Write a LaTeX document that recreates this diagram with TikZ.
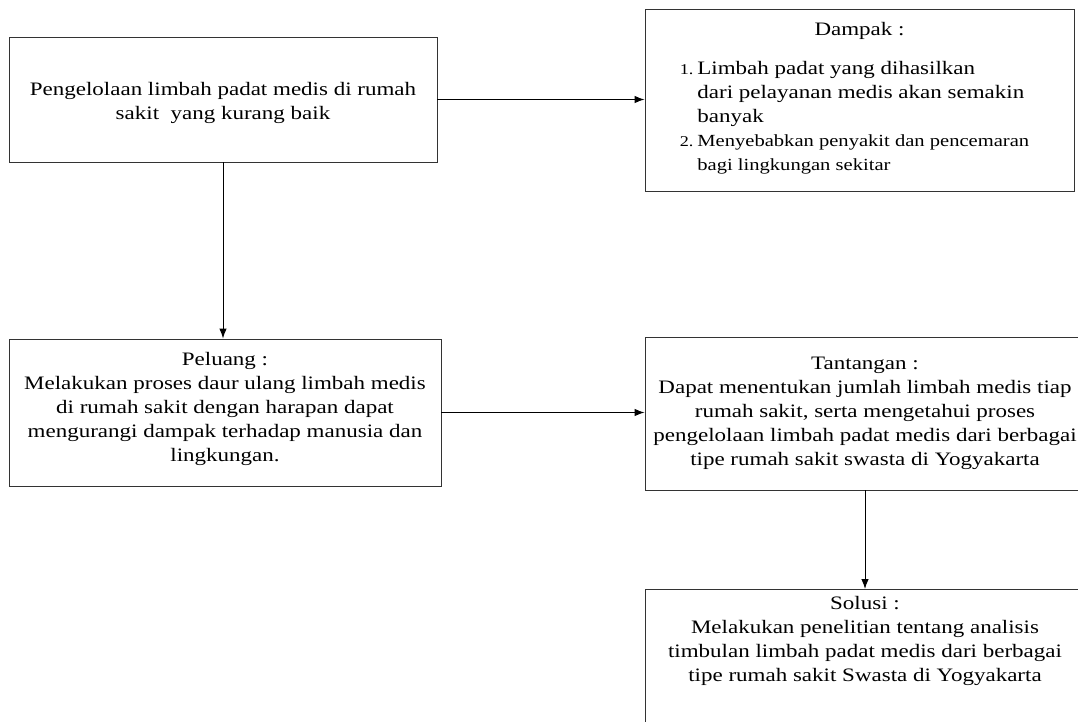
\documentclass[tikz,border=0pt]{standalone}
\usepackage{fontspec}
\setmainfont{Liberation Serif}[FakeStretch=1.21]
\usetikzlibrary{arrows.meta}
\begin{document}
\begin{tikzpicture}[x=1pt,y=-1pt,
  box/.style={draw=black!80,line width=0.9pt,align=center,inner sep=0pt,
    font=\fontsize{19}{24}\selectfont},
  >={Latex[length=10pt,width=7.5pt]}]
  \useasboundingbox (0,0) rectangle (1078,722);
  \fill[white] (0,0) rectangle (1078,722);
  \clip (0,0) rectangle (1078,722);
  \node[box,minimum width=428,minimum height=125] (masalah) at (223,99.5)
    {\rule{0pt}{21pt}Pengelolaan limbah padat medis di rumah\\sakit\ \ yang kurang baik};
  \node[box,minimum width=429,minimum height=182] (dampak) at (859.5,100)
    {Dampak :\\[17pt]
     \begin{tabular}{@{}r@{\hspace{4pt}}l@{}}
       {\fontsize{15}{23}\selectfont 1.} & Limbah padat yang dihasilkan\\
        & dari pelayanan medis akan semakin\\
        & banyak\\
       {\fontsize{15}{23}\selectfont 2.} & {\fontsize{17}{23}\selectfont Menyebabkan penyakit dan pencemaran}\\
        & {\fontsize{17}{23}\selectfont bagi lingkungan sekitar}
     \end{tabular}\hspace*{10pt}};
  \node[box,minimum width=432,minimum height=147] (peluang) at (225,412.5)
    {Peluang :\\Melakukan proses daur ulang limbah medis\\di rumah sakit dengan harapan dapat\\
     mengurangi dampak terhadap manusia dan\\lingkungan.\\[-12pt]};
  \node[box,minimum width=440,minimum height=153] (tantangan) at (865,413.5)
    {Tantangan :\\Dapat menentukan jumlah limbah medis tiap\\rumah sakit, serta mengetahui proses\\
     pengelolaan limbah padat medis dari berbagai\\tipe rumah sakit swasta di Yogyakarta};
  \node[box,anchor=north] (solusi) at (865,589)
    {\parbox[t][150pt][t]{440pt}{\centering\vspace*{7pt}Solusi :\\
     Melakukan penelitian tentang analisis\\timbulan limbah padat medis dari berbagai\\
     tipe rumah sakit Swasta di Yogyakarta}};
  % panah
  \draw[->,line width=1pt] (masalah.east) -- (masalah.east -| dampak.west);
  \draw[->,line width=1pt] (masalah.south) -- (masalah.south |- peluang.north);
  \draw[->,line width=1pt] (peluang.east) -- (peluang.east -| tantangan.west);
  \draw[->,line width=1pt] (tantangan.south) -- (tantangan.south |- solusi.north);
\end{tikzpicture}
\end{document}
